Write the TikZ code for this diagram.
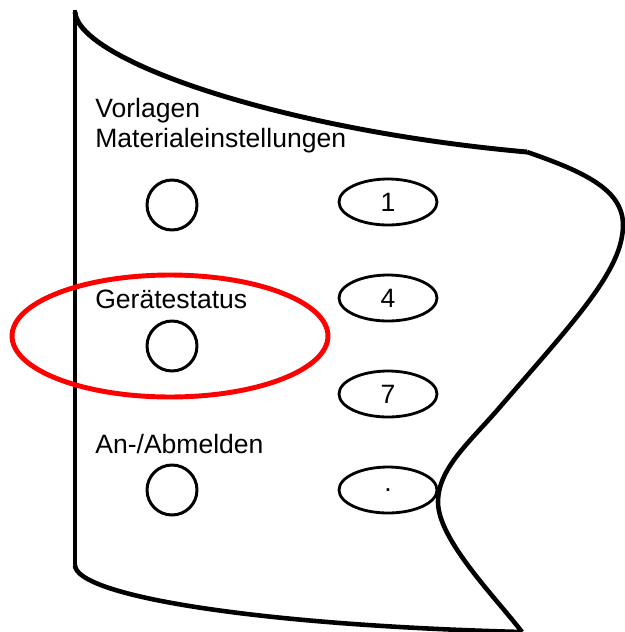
\documentclass[tikz,border=0pt]{standalone}
\usepackage{fontspec}
\setmainfont{Liberation Sans}
\usetikzlibrary{shapes.geometric}

\tikzset{
    rundtaste/.style={draw, circle, line width=1.7pt, minimum size=1cm, inner sep=0pt},
    ovaltaste/.style={draw, ellipse, line width=1.6pt, minimum width=1.96cm, minimum height=0.92cm, inner sep=0pt},
    beschriftung/.style={anchor=base west, inner sep=0pt, align=left},
    markierung/.style={draw=red, ellipse, line width=2.8pt, minimum width=6.32cm, minimum height=2.44cm}
}

\begin{document}
\begin{tikzpicture}[x=0.02cm, y=-0.02cm, font=\fontsize{15.1}{18}\selectfont]
    \useasboundingbox (0,0) rectangle (625,632);

    % Rand des Bedienfelds
    \draw[line width=2.6pt] (75,10) -- (75,565);
    \draw[line width=2.8pt] (75,12) .. controls (78,60) and (280,130) .. (527,152);
    \draw[line width=2.6pt] (75,565) .. controls (75,595) and (250,625) .. (522,632);
    \draw[line width=2.6pt] (527,152) .. controls (585,172) and (623,190) .. (623,225)
        .. controls (623,270) and (575,320) .. (500,407)
        .. controls (470,442) and (438,468) .. (438,502)
        .. controls (438,540) and (497,599) .. (522,632);

    % Beschriftungen
    \node[beschriftung] (vorlagen) at (95,117) {Vorlagen};
    \node[beschriftung] (material) at (95,147) {Materialeinstellungen};
    \node[beschriftung] (status) at (95,308) {Gerätestatus};
    \node[beschriftung] (anmelden) at (95,453) {An-/Abmelden};

    % Tasten links
    \node[rundtaste] (t1) at (172,205) {};
    \node[rundtaste] (t2) at (172,346) {};
    \node[rundtaste] (t3) at (172,490) {};

    % Zifferntasten
    \node[ovaltaste] (z1) at (388,202) {1};
    \node[ovaltaste] (z4) at (388,298) {4};
    \node[ovaltaste] (z7) at (388,394) {7};
    \node[ovaltaste] (zp) at (388,490) {.};

    % Markierung
    \node[markierung] (rot) at (170,336) {};
\end{tikzpicture}
\end{document}
